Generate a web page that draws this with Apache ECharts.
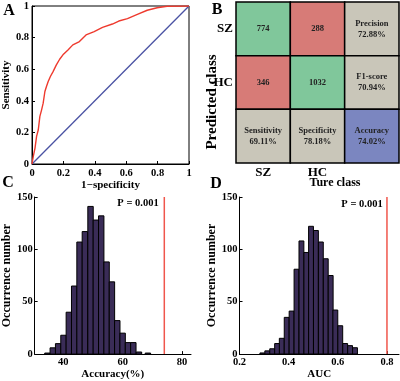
<!DOCTYPE html>
<html><head><meta charset="utf-8">
<script src="https://cdn.jsdelivr.net/npm/echarts@6/dist/echarts.min.js"></script>
<style>html,body{margin:0;padding:0;background:#fff}#c{width:400px;height:381px}</style>
</head><body><div id="c"></div>
<script>
// ---------- Panel A: ROC ----------
const rocFpr = [0, 0.008, 0.019, 0.029, 0.04, 0.05, 0.061, 0.071, 0.082, 0.092, 0.103, 0.117, 0.134, 0.155, 0.176, 0.197, 0.229, 0.26, 0.302, 0.344, 0.396, 0.449, 0.512, 0.553, 0.608, 0.671, 0.734, 0.797, 0.86, 1];
const rocTpr = [0, 0.048, 0.101, 0.175, 0.217, 0.301, 0.343, 0.385, 0.459, 0.491, 0.522, 0.554, 0.585, 0.627, 0.663, 0.691, 0.722, 0.754, 0.775, 0.817, 0.838, 0.865, 0.886, 0.905, 0.92, 0.947, 0.973, 0.989, 0.998, 1];
const chanceX = [0, 1];
const chanceY = [0, 1];

// ---------- Panel B: confusion matrix ----------
const cmClasses = ['SZ', 'HC'];
const cmCounts = [[774, 288], [346, 1032]];
const rowMetricNames = ['Precision', 'F1-score'];
const rowMetricValues = [72.88, 70.94];
const colMetricNames = ['Sensitivity', 'Specificity'];
const colMetricValues = [69.11, 78.18];
const overallName = 'Accuracy';
const overallValue = 74.02;

// ---------- Panel C: permutation accuracy histogram ----------
const accBinCenters = [34.7, 36.5, 38.3, 40.1, 41.9, 43.7, 45.5, 47.3, 49.2, 51.0, 52.8, 54.6, 56.4, 58.2, 60.0, 61.8, 63.6, 65.5, 68.5];
const accCounts = [1, 6, 10, 18, 40, 65, 107, 117, 141, 128, 132, 88, 69, 32, 20, 11, 11, 2, 1];
const accObserved = 74.02;
const accTicks = [40, 60, 80];

// ---------- Panel D: permutation AUC histogram ----------
const aucBinCenters = [0.293, 0.313, 0.333, 0.353, 0.372, 0.392, 0.412, 0.432, 0.452, 0.472, 0.491, 0.511, 0.531, 0.551, 0.571, 0.590, 0.610, 0.630, 0.650, 0.670];
const aucCounts = [1, 3, 5, 10, 15, 35, 41, 81, 108, 97, 122, 118, 107, 91, 75, 42, 27, 10, 8, 6];
const aucObserved = 0.80;
const aucTicks = [0.2, 0.4, 0.6, 0.8];
const countTicksMax = 150;
const pText = 'P = 0.001';

// ---------- build ----------
const FONT = '"Liberation Serif", "Times New Roman", serif';
const txt = (size) => ({ fontFamily: FONT, fontWeight: 'bold', fontSize: size, color: '#000' });
const accBinWidth = 1.82;
const aucBinWidth = 0.0198;

const cells = [];
for (let r = 0; r < 2; r++) for (let c = 0; c < 2; c++)
  cells.push({ x: c, y: r, text: String(cmCounts[r][c]), kind: r === c ? 'hit' : 'miss' });
for (let r = 0; r < 2; r++)
  cells.push({ x: 2, y: r, text: rowMetricNames[r] + '\n' + rowMetricValues[r].toFixed(2) + '%', kind: 'metric' });
for (let c = 0; c < 2; c++)
  cells.push({ x: c, y: 2, text: colMetricNames[c] + '\n' + colMetricValues[c].toFixed(2) + '%', kind: 'metric' });
cells.push({ x: 2, y: 2, text: overallName + '\n' + overallValue.toFixed(2) + '%', kind: 'overall' });
const cellFill = { hit: '#80c79b', miss: '#d77b77', metric: '#c9c6b9', overall: '#7b86c0' };

function histItem(width) {
  return function (params, api) {
    const c = api.value(0), h = api.value(1);
    const p0 = api.coord([c - width / 2, 0]);
    const p1 = api.coord([c + width / 2, h]);
    return { type: 'rect', shape: { x: p0[0], y: p1[1], width: p1[0] - p0[0], height: p0[1] - p1[1] },
      style: { fill: '#3a2c57', stroke: '#000', lineWidth: 1 } };
  };
}

const chart = echarts.init(document.getElementById('c'), null, { renderer: 'canvas' });
const axisLine = { show: true, lineStyle: { color: '#000', width: 1 } };
const tickIn = { show: true, inside: true, length: 3, lineStyle: { color: '#000' } };

chart.setOption({
  animation: false,
  backgroundColor: '#fff',
  grid: [
    { left: 30, top: 6, width: 159, height: 158, show: true, borderColor: '#000', borderWidth: 1, backgroundColor: 'transparent' },
    { left: 236, top: 2, width: 163, height: 161 },
    { left: 32, top: 197, width: 159, height: 159.5 },
    { left: 239.5, top: 197, width: 159.5, height: 157 }
  ],
  xAxis: [
    { gridIndex: 0, type: 'value', min: 0, max: 1, interval: 0.2, axisLine, axisTick: tickIn, splitLine: { show: false },
      axisLabel: Object.assign(txt(10.5), { margin: 4 }),
      name: '1\u2212specificity', nameLocation: 'middle', nameGap: 13, nameTextStyle: txt(11) },
    { gridIndex: 1, type: 'category', data: cmClasses.concat(['']), axisLine: { show: false }, axisTick: { show: false },
      axisLabel: Object.assign(txt(13), { margin: 3 }) },
    { gridIndex: 2, type: 'value', min: 30.4, max: 83, axisLine, splitLine: { show: false },
      axisTick: Object.assign({ customValues: accTicks }, tickIn),
      axisLabel: Object.assign(txt(10.5), { margin: 3, customValues: accTicks }),
      name: 'Accuracy(%)', nameLocation: 'middle', nameGap: 13, nameTextStyle: txt(11) },
    { gridIndex: 3, type: 'value', min: 0.2, max: 0.849, axisLine, splitLine: { show: false },
      axisTick: Object.assign({ customValues: aucTicks }, tickIn),
      axisLabel: Object.assign(txt(10.5), { margin: 3, customValues: aucTicks, formatter: v => v.toFixed(1) }),
      name: 'AUC', nameLocation: 'middle', nameGap: 12, nameTextStyle: txt(11) }
  ],
  yAxis: [
    { gridIndex: 0, type: 'value', min: 0, max: 1, interval: 0.2, axisLine, axisTick: tickIn, splitLine: { show: false },
      axisLabel: Object.assign(txt(10.5), { margin: 3 }),
      name: 'Sensitivity', nameLocation: 'middle', nameGap: 16, nameTextStyle: txt(11) },
    { gridIndex: 1, type: 'category', inverse: true, data: cmClasses.concat(['']), axisLine: { show: false }, axisTick: { show: false },
      axisLabel: Object.assign(txt(13), { margin: 3 }) },
    { gridIndex: 2, type: 'value', min: 0, max: countTicksMax, interval: 50, axisLine, axisTick: tickIn, splitLine: { show: false },
      axisLabel: Object.assign(txt(10.5), { margin: 2 }),
      name: 'Occurrence number', nameLocation: 'middle', nameGap: 19, nameTextStyle: txt(12) },
    { gridIndex: 3, type: 'value', min: 0, max: countTicksMax, interval: 50, axisLine, axisTick: tickIn, splitLine: { show: false },
      axisLabel: Object.assign(txt(10.5), { margin: 2 }),
      name: 'Occurrence number', nameLocation: 'middle', nameGap: 20, nameTextStyle: txt(12) }
  ],
  series: [
    { type: 'line', xAxisIndex: 0, yAxisIndex: 0, symbol: 'none', lineStyle: { color: '#4a52a3', width: 1.3 },
      data: chanceX.map((x, i) => [x, chanceY[i]]), z: 2 },
    { type: 'line', xAxisIndex: 0, yAxisIndex: 0, symbol: 'none', lineStyle: { color: '#ee3a2e', width: 1.4 },
      data: rocFpr.map((x, i) => [x, rocTpr[i]]), z: 3 },
    { type: 'custom', xAxisIndex: 1, yAxisIndex: 1, data: cells.map(c => [c.x, c.y]),
      renderItem: function (params, api) {
        const cell = cells[params.dataIndex];
        const p = api.coord([api.value(0), api.value(1)]);
        const s = api.size([1, 1]);
        return { type: 'group', children: [
          { type: 'rect', shape: { x: p[0] - s[0] / 2, y: p[1] - s[1] / 2, width: s[0], height: s[1] },
            style: { fill: cellFill[cell.kind], stroke: '#000', lineWidth: 1.5 } },
          { type: 'text', style: { x: p[0], y: p[1], text: cell.text, align: 'center', verticalAlign: 'middle',
            fontFamily: FONT, fontWeight: 'bold', fontSize: 8.5, lineHeight: 11, fill: '#222' } }
        ] };
      } },
    { type: 'custom', xAxisIndex: 2, yAxisIndex: 2, renderItem: histItem(accBinWidth),
      encode: { x: 0, y: 1 }, data: accBinCenters.map((c, i) => [c, accCounts[i]]) },
    { type: 'line', xAxisIndex: 2, yAxisIndex: 2, symbol: 'none', lineStyle: { color: '#f0564c', width: 1.5 },
      data: [[accObserved, 0], [accObserved, countTicksMax]] },
    { type: 'custom', xAxisIndex: 3, yAxisIndex: 3, renderItem: histItem(aucBinWidth),
      encode: { x: 0, y: 1 }, data: aucBinCenters.map((c, i) => [c, aucCounts[i]]) },
    { type: 'line', xAxisIndex: 3, yAxisIndex: 3, symbol: 'none', lineStyle: { color: '#f0564c', width: 1.5 },
      data: [[aucObserved, 0], [aucObserved, countTicksMax]] }
  ],
  graphic: [
    { type: 'text', x: 9, y: 11, style: { text: 'A', align: 'center', verticalAlign: 'middle', font: 'bold 16px ' + FONT, fill: '#000' } },
    { type: 'text', x: 217, y: 10, style: { text: 'B', align: 'center', verticalAlign: 'middle', font: 'bold 16px ' + FONT, fill: '#000' } },
    { type: 'text', x: 8, y: 183, style: { text: 'C', align: 'center', verticalAlign: 'middle', font: 'bold 16px ' + FONT, fill: '#000' } },
    { type: 'text', x: 216, y: 184, style: { text: 'D', align: 'center', verticalAlign: 'middle', font: 'bold 16px ' + FONT, fill: '#000' } },
    { type: 'text', x: 212, y: 102, rotation: Math.PI / 2, style: { text: 'Predicted class', align: 'center', verticalAlign: 'middle', font: 'bold 15px ' + FONT, fill: '#000' } },
    { type: 'text', x: 335, y: 183, style: { text: 'Ture class', align: 'center', verticalAlign: 'middle', font: 'bold 12px ' + FONT, fill: '#000' } },
    { type: 'text', x: 138, y: 203, style: { text: pText, align: 'center', verticalAlign: 'middle', font: 'bold 10.5px ' + FONT, fill: '#000' } },
    { type: 'text', x: 362, y: 204, style: { text: pText, align: 'center', verticalAlign: 'middle', font: 'bold 10.5px ' + FONT, fill: '#000' } }
  ]
});
</script></body></html>
